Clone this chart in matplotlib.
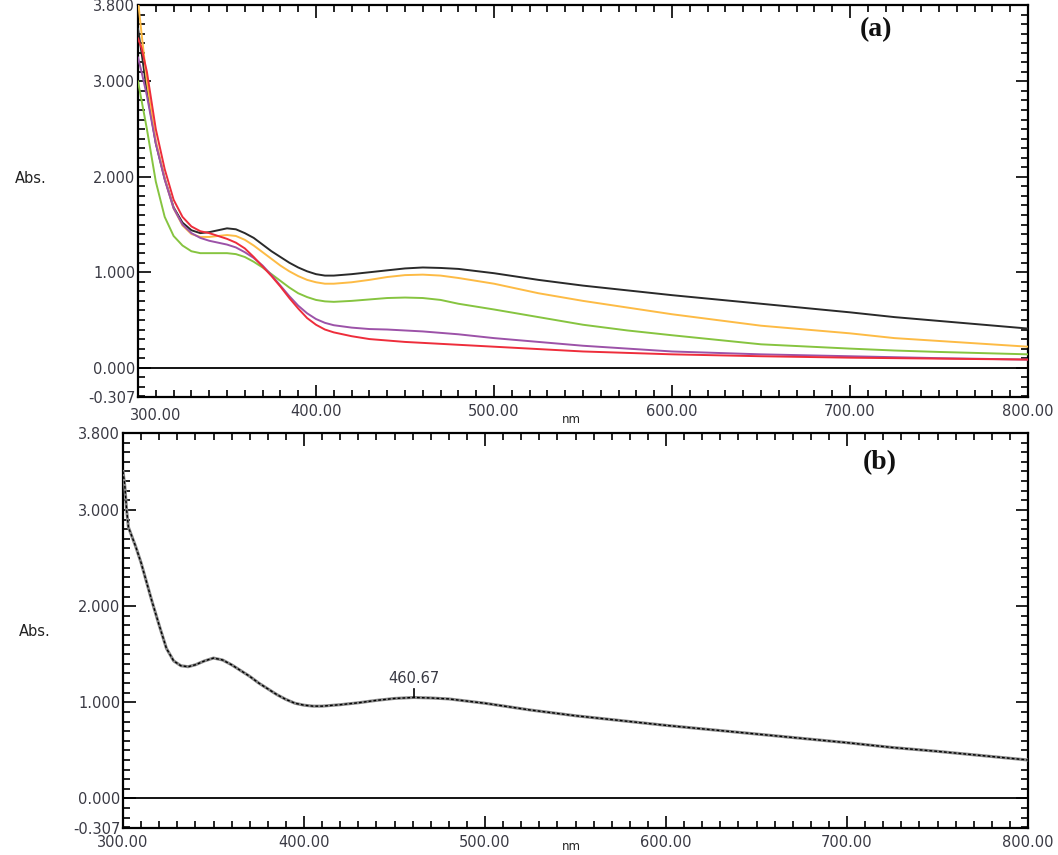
import matplotlib
matplotlib.use("Agg")
import matplotlib.pyplot as plt
from matplotlib.ticker import MultipleLocator, FixedLocator
from matplotlib.transforms import ScaledTranslation

# ---------------- data ----------------
wavelength_a = [300, 302, 305, 310, 315, 320, 325, 330, 335, 340, 345, 350, 355, 360,
                365, 370, 375, 380, 385, 390, 395, 400, 405, 410, 420, 430, 440, 450,
                460, 470, 480, 500, 525, 550, 575, 600, 650, 700, 725, 750, 800]

abs_black = [3.55, 3.30, 2.90, 2.35, 1.98, 1.68, 1.52, 1.44, 1.41, 1.42, 1.44, 1.46, 1.45, 1.41,
             1.36, 1.29, 1.22, 1.16, 1.10, 1.05, 1.01, 0.98, 0.965, 0.965, 0.98, 1.00, 1.02, 1.04,
             1.05, 1.045, 1.035, 0.99, 0.92, 0.86, 0.81, 0.76, 0.67, 0.58, 0.53, 0.49, 0.41]

abs_orange = [3.85, 3.50, 3.00, 2.38, 1.98, 1.67, 1.49, 1.40, 1.37, 1.37, 1.38, 1.39, 1.38, 1.34,
              1.28, 1.21, 1.14, 1.07, 1.01, 0.96, 0.92, 0.895, 0.88, 0.88, 0.895, 0.92, 0.95, 0.97,
              0.975, 0.965, 0.94, 0.88, 0.78, 0.70, 0.63, 0.56, 0.44, 0.36, 0.31, 0.28, 0.22]

abs_green = [3.00, 2.80, 2.50, 1.95, 1.58, 1.38, 1.28, 1.22, 1.20, 1.20, 1.20, 1.20, 1.19, 1.16,
             1.11, 1.05, 0.98, 0.91, 0.84, 0.78, 0.74, 0.71, 0.695, 0.69, 0.70, 0.715, 0.73, 0.735,
             0.73, 0.71, 0.67, 0.61, 0.53, 0.45, 0.39, 0.34, 0.245, 0.20, 0.18, 0.165, 0.14]

abs_purple = [3.25, 3.10, 2.85, 2.35, 1.97, 1.67, 1.50, 1.41, 1.36, 1.33, 1.31, 1.29, 1.26, 1.21,
              1.15, 1.07, 0.97, 0.86, 0.75, 0.65, 0.57, 0.51, 0.47, 0.445, 0.42, 0.405, 0.40, 0.39,
              0.38, 0.365, 0.35, 0.31, 0.27, 0.23, 0.20, 0.17, 0.14, 0.12, 0.11, 0.10, 0.085]

abs_red = [3.45, 3.35, 3.10, 2.50, 2.08, 1.76, 1.58, 1.48, 1.43, 1.41, 1.38, 1.35, 1.31, 1.25,
           1.16, 1.06, 0.96, 0.85, 0.73, 0.62, 0.52, 0.45, 0.40, 0.37, 0.33, 0.30, 0.285, 0.27,
           0.26, 0.25, 0.24, 0.22, 0.195, 0.17, 0.155, 0.14, 0.12, 0.105, 0.10, 0.095, 0.085]

series_a = [("black", abs_black, "#2a2a2a"),
            ("orange", abs_orange, "#FDBB45"),
            ("green", abs_green, "#86C440"),
            ("purple", abs_purple, "#9C52A8"),
            ("red", abs_red, "#EE2D3B")]

wavelength_b = [300, 301, 302, 303, 305, 307, 310, 313, 316, 320, 324, 328, 332, 336, 340, 345,
                350, 355, 360, 365, 370, 375, 380, 385, 390, 395, 400, 405, 410, 420, 430, 440,
                450, 460.67, 470, 480, 500, 525, 550, 575, 600, 650, 700, 725, 750, 800]
abs_b = [3.40, 3.25, 3.00, 2.82, 2.72, 2.62, 2.45, 2.25, 2.05, 1.80, 1.56, 1.43, 1.38, 1.37, 1.39, 1.43,
         1.46, 1.44, 1.39, 1.33, 1.27, 1.20, 1.14, 1.08, 1.03, 0.99, 0.97, 0.96, 0.96, 0.975, 0.995, 1.02,
         1.04, 1.05, 1.045, 1.035, 0.99, 0.92, 0.86, 0.81, 0.76, 0.67, 0.58, 0.53, 0.49, 0.40]

peak_nm = 460.67
peak_abs = 1.05

y_ticks = [-0.307, 0.0, 1.0, 2.0, 3.0, 3.8]
y_ticklabels = ["-0.307", "0.000", "1.000", "2.000", "3.000", "3.800"]
x_ticks = [300, 400, 500, 600, 700, 800]
x_ticklabels = ["300.00", "400.00", "500.00", "600.00", "700.00", "800.00"]

# ---------------- figure ----------------
W, H = 1058, 855
fig = plt.figure(figsize=(W / 100, H / 100), dpi=100)

def px_axes(left, top, right, bottom):
    return fig.add_axes([left / W, 1 - bottom / H, (right - left) / W, (bottom - top) / H])

ax_a = px_axes(138, 5, 1028, 397)
ax_b = px_axes(123, 433, 1028, 828)

tick_color = "#3a3a44"

def style(ax, first_xlabel=True):
    ax.set_xlim(300, 800)
    ax.set_ylim(-0.307, 3.8)
    ax.yaxis.set_major_locator(FixedLocator(y_ticks))
    ax.set_yticklabels(y_ticklabels)
    ax.yaxis.set_minor_locator(MultipleLocator(0.1))
    ax.xaxis.set_major_locator(FixedLocator(x_ticks))
    labels = list(x_ticklabels)
    if not first_xlabel:
        labels[0] = ""
    ax.set_xticklabels(labels)
    ax.xaxis.set_minor_locator(MultipleLocator(10))
    ax.tick_params(which="both", direction="in", top=True, right=True,
                   width=1.2, color="black", labelsize=10.5, labelcolor=tick_color)
    ax.tick_params(which="major", length=9)
    ax.tick_params(which="minor", length=5)
    ax.tick_params(axis="y", which="major", pad=2)
    ax.tick_params(axis="x", which="major", pad=5)
    for s in ax.spines.values():
        s.set_linewidth(1.6)
    ax.axhline(0, color="black", lw=1.3, zorder=1)

style(ax_a, first_xlabel=False)
style(ax_b)

# first x tick label of panel (a) sits to the right of the axis corner
ax_a.text(300, 0, x_ticklabels[0], transform=ax_a.get_xaxis_transform()
          + ScaledTranslation(0.18, -0.11, fig.dpi_scale_trans),
          ha="center", va="top", fontsize=10.5, color=tick_color, clip_on=False)

for name, vals, col in series_a:
    ax_a.plot(wavelength_a, vals, color=col, lw=1.4, zorder=3)

ax_b.plot(wavelength_b, abs_b, color="#888888", lw=2.2, zorder=3)
ax_b.plot(wavelength_b, abs_b, color="black", lw=1.0, ls=(0, (2, 1.5)), zorder=4)

# peak marker
ax_b.plot([peak_nm, peak_nm], [peak_abs, peak_abs + 0.09], color="black", lw=1.2, zorder=5)
ax_b.text(peak_nm, peak_abs + 0.12, "460.67", ha="center", va="bottom",
          fontsize=10.5, color=tick_color)

# axis titles
fig.text(31 / W, 1 - 178 / H, "Abs.", ha="center", va="center", fontsize=10.5, color="#222222")
fig.text(35 / W, 1 - 631 / H, "Abs.", ha="center", va="center", fontsize=10.5, color="#222222")
fig.text(571 / W, 1 - 419 / H, "nm", ha="center", va="center", fontsize=8.5, color="#222222")
fig.text(571 / W, 1 - 846 / H, "nm", ha="center", va="center", fontsize=8.5, color="#222222")

# panel labels
fig.text(876 / W, 1 - 30 / H, "(a)", ha="center", va="center", fontsize=20,
         family="Liberation Serif", fontweight="bold", color="#111111")
fig.text(880 / W, 1 - 463 / H, "(b)", ha="center", va="center", fontsize=20,
         family="Liberation Serif", fontweight="bold", color="#111111")

fig.savefig("out.png", dpi=100)
